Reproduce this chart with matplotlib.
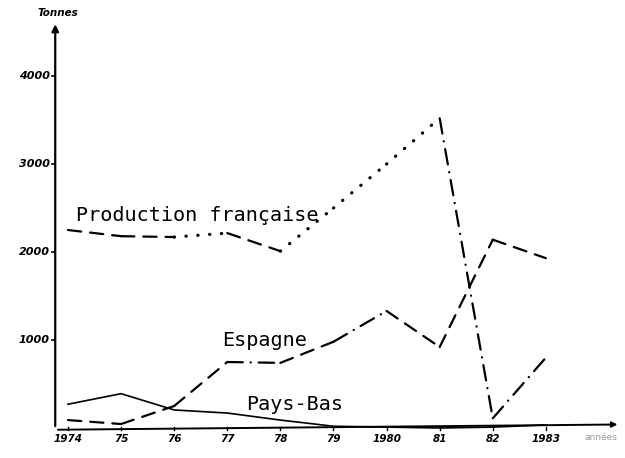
import matplotlib.pyplot as plt

years = [1974, 1975, 1976, 1977, 1978, 1979, 1980, 1981, 1982, 1983]
xlabels = ["1974", "75", "76", "77", "78", "79", "1980", "81", "82", "1983"]
france = [2250, 2180, 2170, 2215, 2010, 2500, 3000, 3520, 110, 800]
espagne = [90, 45, 250, 750, 740, 980, 1330, 920, 2140, 1930]
paysbas = [270, 390, 205, 170, 90, 20, 10, 0, 10, 35]
yticks = [1000, 2000, 3000, 4000]

# segment styles, the drawing switches pen style along each curve
dot = (0, (0.1, 3.6))
dash = (0, (6, 4))
dashdot = (0, (7, 3.5, 0.1, 3.5))
france_styles = [dash, dash, dot, dash, dot, dot, dot, dashdot, dashdot]
espagne_styles = [dash, dash, dash, dashdot, dash, dashdot, dash, dash, dash]

fig = plt.figure(figsize=(6.25, 4.58), dpi=100)
ax = fig.add_axes([0, 0, 1, 1])
ax.set_xlim(1972.72, 1984.49)
ax.set_ylim(-341, 4864)
ax.axis("off")

x0 = 1973.76
ax.annotate("", xy=(x0, 4620), xytext=(x0, -10),
            arrowprops=dict(arrowstyle="-|>", lw=1.6, color="black", mutation_scale=10))
ax.annotate("", xy=(1984.4, 40), xytext=(x0, -20),
            arrowprops=dict(arrowstyle="-|>", lw=1.4, color="black", mutation_scale=8))
ax.text(x0 + 0.05, 4720, "Tonnes", fontsize=7.5, style="italic", fontweight="bold",
        ha="center", va="center")
ax.text(1984.35, -110, "années", fontsize=6.5, color="#999999", ha="right", va="center")

for v in yticks:
    ax.plot([x0 - 0.06, x0], [v, v], color="black", lw=1.2)
    ax.text(x0 - 0.1, v, str(v), fontsize=8, style="italic", fontweight="bold",
            ha="right", va="center")
for yr, lab in zip(years, xlabels):
    ax.plot([yr, yr], [-20, 10], color="black", lw=1)
    ax.text(yr, -120, lab, fontsize=7.5, style="italic", fontweight="bold",
            ha="center", va="center")

for i in range(len(years) - 1):
    fs = france_styles[i]
    ax.plot(years[i:i + 2], france[i:i + 2], color="black",
            lw=2.3 if fs == dot else 1.6,
            linestyle=fs, dash_capstyle="round")
    ax.plot(years[i:i + 2], espagne[i:i + 2], color="black", lw=1.6,
            linestyle=espagne_styles[i], dash_capstyle="round")
ax.plot(years, paysbas, color="black", lw=1.2)

ax.text(1976.43, 2420, "Production française", family="DejaVu Sans Mono",
        fontsize=14.5, ha="center", va="center")
ax.text(1977.7, 1000, "Espagne", family="DejaVu Sans Mono",
        fontsize=14.5, ha="center", va="center")
ax.text(1978.27, 270, "Pays-Bas", family="DejaVu Sans Mono",
        fontsize=14.5, ha="center", va="center")

fig.savefig("out.png", dpi=100)
